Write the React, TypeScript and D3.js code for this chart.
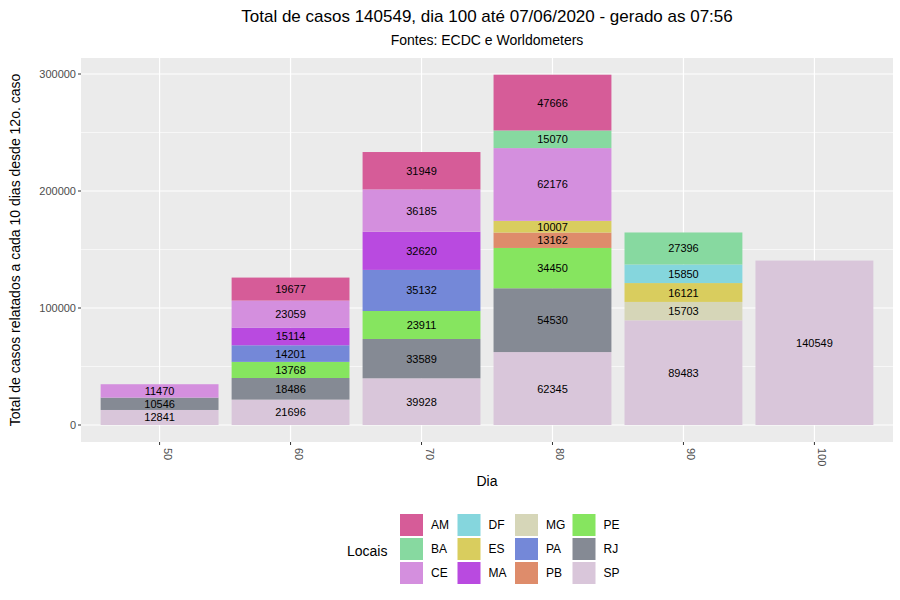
import * as React from 'react'
import * as d3 from 'd3'

const days = ['50', '60', '70', '80', '90', '100']
const locais = ['AM', 'BA', 'CE', 'DF', 'ES', 'MA', 'MG', 'PA', 'PB', 'PE', 'RJ', 'SP']
const colors = ['#d65c98', '#87d9a0', '#d48fde', '#85d6dd', '#d9cd5e', '#b94ae0', '#d6d6b8', '#7488d8', '#de8c6b', '#86e55f', '#858a94', '#d9c6da']
// values per day, one array per local (0 = absent)
const AM = [0, 19677, 31949, 47666, 0, 0]
const BA = [0, 0, 0, 15070, 27396, 0]
const CE = [11470, 23059, 36185, 62176, 0, 0]
const DF = [0, 0, 0, 0, 15850, 0]
const ES = [0, 0, 0, 10007, 16121, 0]
const MA = [0, 15114, 32620, 0, 0, 0]
const MG = [0, 0, 0, 0, 15703, 0]
const PA = [0, 14201, 35132, 0, 0, 0]
const PB = [0, 0, 0, 13162, 0, 0]
const PE = [0, 13768, 23911, 34450, 0, 0]
const RJ = [10546, 18486, 33589, 54530, 0, 0]
const SP = [12841, 21696, 39928, 62345, 89483, 140549]
const series = [AM, BA, CE, DF, ES, MA, MG, PA, PB, PE, RJ, SP]
const yTicks = [0, 100000, 200000, 300000]

const font = 'Liberation Sans, Arial, sans-serif'

export default function App() {
  const pl = 81, pr = 893, pt = 58, pb = 442
  const x = d3.scaleBand().domain(days).range([pl, pr]).paddingInner(0.1).paddingOuter(0.6 - 0.05)
  const y = d3.scaleLinear().domain([0, 300000]).range([425, 74])
  const step = (pr - pl) / 6.2
  const cx = (d: string) => pl + step * (0.6 + days.indexOf(d))
  const bw = step * 0.9
  const grid = [50000, 150000, 250000]

  const rects: any[] = []
  days.forEach((d, i) => {
    let acc = 0
    for (let k = locais.length - 1; k >= 0; k--) {
      const v = series[k][i]
      if (!v) continue
      const y0 = y(acc), y1 = y(acc + v)
      acc += v
      rects.push(
        <g key={d + locais[k]}>
          <rect x={cx(d) - bw / 2} y={y1} width={bw} height={y0 - y1} fill={colors[k]} />
          <text x={cx(d)} y={(y0 + y1) / 2 + 4} textAnchor="middle" fontSize={11} fill="#000">{v}</text>
        </g>
      )
    }
  })

  const legCols = 4
  return (
    <svg width={900} height={600} style={{ position: 'absolute', left: 0, top: 0, fontFamily: font }}>
      <rect width={900} height={600} fill="#fff" />
      <rect x={pl} y={pt} width={pr - pl} height={pb - pt} fill="#ebebeb" />
      {grid.map(g => <line key={g} x1={pl} x2={pr} y1={y(g)} y2={y(g)} stroke="#fff" strokeWidth={0.6} />)}
      {yTicks.map(t => <line key={t} x1={pl} x2={pr} y1={y(t)} y2={y(t)} stroke="#fff" strokeWidth={1.2} />)}
      {days.map(d => <line key={d} x1={cx(d)} x2={cx(d)} y1={pt} y2={pb} stroke="#fff" strokeWidth={1.2} />)}
      {rects}
      {yTicks.map(t => (
        <g key={t}>
          <line x1={pl - 3} x2={pl} y1={y(t)} y2={y(t)} stroke="#333" />
          <text x={pl - 5} y={y(t) + 4} textAnchor="end" fontSize={11} fill="#4d4d4d">{t}</text>
        </g>
      ))}
      {days.map(d => (
        <g key={d}>
          <line x1={cx(d)} x2={cx(d)} y1={pb} y2={pb + 3} stroke="#333" />
          <text transform={`translate(${cx(d) + 4},${pb + 6}) rotate(90)`} fontSize={11} fill="#4d4d4d">{d}</text>
        </g>
      ))}
      <text x={(pl + pr) / 2} y={486} textAnchor="middle" fontSize={14}>Dia</text>
      <text transform={`translate(20,${(pt + pb) / 2}) rotate(-90)`} textAnchor="middle" fontSize={14}>Total de casos relatados a cada 10 dias desde 12o. caso</text>
      <text x={(pl + pr) / 2} y={22} textAnchor="middle" fontSize={17}>Total de casos 140549, dia 100 até 07/06/2020 - gerado as 07:56</text>
      <text x={(pl + pr) / 2} y={45} textAnchor="middle" fontSize={14}>Fontes: ECDC e Worldometers</text>
      <text x={347} y={556} fontSize={14}>Locais</text>
      {locais.map((l, i) => {
        const col = Math.floor(i / 3), row = i % 3
        const lx = 400 + col * 57.5, ly = 514 + row * 24
        return (
          <g key={l}>
            <rect x={lx} y={ly} width={23} height={22} fill={colors[i]} />
            <text x={lx + 31} y={ly + 15} fontSize={12}>{l}</text>
          </g>
        )
      })}
    </svg>
  )
}
